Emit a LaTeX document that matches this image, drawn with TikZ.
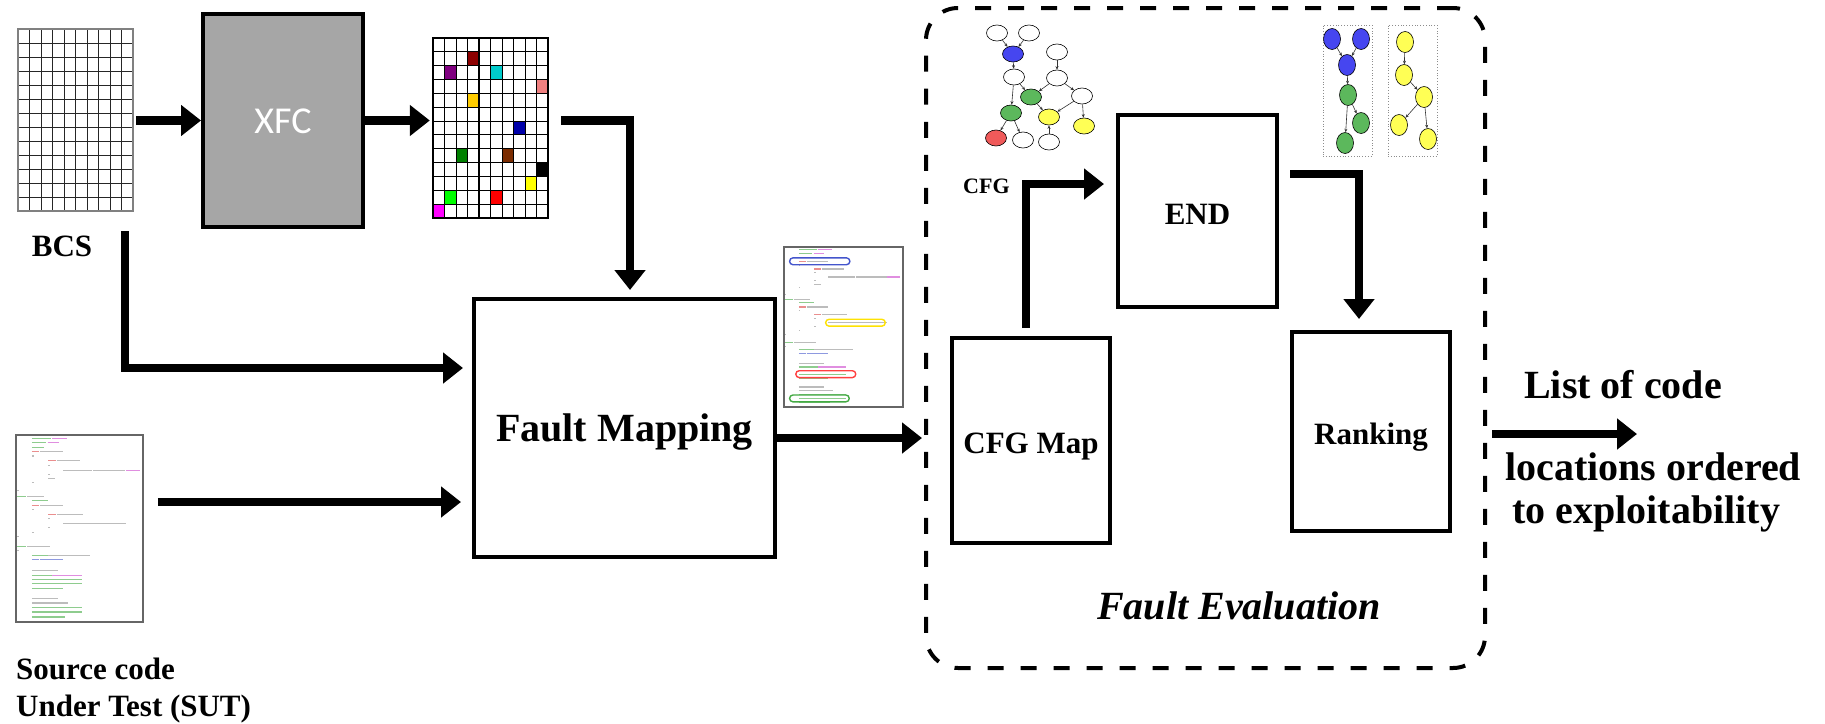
\documentclass[tikz,border=0pt]{standalone}
\usepackage{fontspec}
\setmainfont{Liberation Serif}
\newfontfamily\xfcfont{Carlito}
\usetikzlibrary{arrows.meta,shapes.geometric}

\definecolor{xfcgray}{HTML}{A6A6A6}
\definecolor{gblue}{HTML}{4646F0}
\definecolor{ggreen}{HTML}{5CB85C}
\definecolor{gyellow}{HTML}{FFFF55}
\definecolor{gred}{HTML}{F05A5A}
\definecolor{cgreen}{HTML}{44AA44}
\definecolor{cmag}{HTML}{CC44CC}
\definecolor{cblue}{HTML}{4455CC}
\definecolor{cred}{HTML}{DD4444}
\definecolor{cgray}{HTML}{909090}

% a page of source code, drawn in a 383 x 560 local frame
\newcommand\codelines{%
  \foreach \xa/\xb/\yy/\cc in {48/105/10/cgreen, 108/155/10/cmag,
      48/90/23/cgreen, 95/130/23/cmag, 48/83/37/cgreen,
      48/70/50/cred, 73/143/50/cgray, 48/53/63/cgray,
      98/120/77/cred, 123/193/77/cgray, 98/103/90/cgray,
      143/230/105/cgray, 233/330/105/cgray, 333/373/105/cmag,
      98/103/117/cgray, 98/118/130/cgray, 48/53/143/cgray, 3/8/165/cgray,
      3/30/183/cgreen, 33/83/183/cgray, 48/98/195/cgreen,
      48/70/210/cred, 73/143/210/cgray, 48/53/223/cgray,
      98/120/237/cred, 123/203/237/cgray, 98/103/250/cgray,
      143/333/265/cgray, 98/103/277/cgray, 48/53/293/cgray, 3/8/305/cgray,
      3/30/333/cgreen, 33/103/333/cgray, 3/8/347/cgray,
      48/95/360/cgreen, 98/223/360/cgray, 48/70/373/cblue, 73/143/373/cblue,
      48/128/407/cgray, 48/108/420/cgreen, 110/198/420/cmag,
      48/198/433/cgreen, 48/198/445/cgreen, 48/143/460/cgreen,
      48/128/490/cgray, 48/158/503/cgray, 48/198/517/cgreen,
      48/198/530/cgreen, 48/148/545/cgreen}
  {\draw[\cc, line width=1.1pt, opacity=0.6] (\xa,\yy) -- (\xb,\yy);}%
}

\begin{document}
\begin{tikzpicture}[x=1pt, y=-1pt,
  box/.style={draw, line width=4pt, inner sep=0pt, text height=26pt, text depth=0pt,
    font=\bfseries\fontsize{31}{31}\selectfont},
  arr/.style={line width=8.5pt, -{Triangle[length=20pt, width=30pt]}},
  lbl/.style={inner sep=0pt, font=\bfseries\fontsize{31}{31}\selectfont},
  biglbl/.style={inner sep=0pt, font=\bfseries\fontsize{40}{40}\selectfont},
  sheet/.style={draw=black!60, line width=1.5pt, fill=white, inner sep=0pt},
  gnode/.style={ellipse, draw, line width=0.6pt, inner sep=0pt, minimum width=21pt, minimum height=16pt},
  pnode/.style={ellipse, draw, line width=0.6pt, inner sep=0pt, minimum width=17pt, minimum height=21pt},
  garr/.style={draw=black!80, line width=0.6pt, -{Stealth[length=3.5pt, width=3pt]}},
  pathbox/.style={draw=black!45, dotted, line width=0.8pt, inner sep=0pt, minimum width=49pt, minimum height=131pt}
]
\useasboundingbox (0,0) rectangle (1825,723);

% ---------- bit configuration space ----------
\node[inner sep=0pt, minimum width=115pt, minimum height=182pt] (bcsgrid) at (75.5,120) {};
\foreach \i in {1,...,9} \draw[black!85, line width=0.9pt] (18+\i*11.5,29) -- (18+\i*11.5,211);
\foreach \j in {1,...,12} \draw[black!85, line width=0.9pt] (18,29+\j*14) -- (133,29+\j*14);
\draw[black!50, line width=2pt] (18,29) rectangle (133,211);
\node[lbl, anchor=base] (bcslabel) at (62,256) {BCS};

% ---------- fault grid with injected faults ----------
\node[inner sep=0pt, minimum width=115pt, minimum height=180pt] (cgrid) at (490.5,128) {};
\foreach \c/\r/\col in {3/1/{rgb,255:red,140;green,0;blue,0}, 1/2/{rgb,255:red,128;green,0;blue,128},
    5/2/{rgb,255:red,0;green,204;blue,204}, 9/3/{rgb,255:red,240;green,128;blue,128},
    3/4/{rgb,255:red,255;green,204;blue,0}, 7/6/{rgb,255:red,0;green,0;blue,170},
    2/8/{rgb,255:red,0;green,128;blue,0}, 6/8/{rgb,255:red,123;green,44;blue,0},
    9/9/{rgb,255:red,0;green,0;blue,0}, 8/10/{rgb,255:red,255;green,255;blue,0},
    1/11/{rgb,255:red,0;green,255;blue,0}, 5/11/{rgb,255:red,255;green,0;blue,0},
    0/12/{rgb,255:red,255;green,0;blue,255}}
  \fill[color=\col] (433+\c*11.5,38+\r*13.846) rectangle ++(11.5,13.846);
\foreach \i in {1,...,9} \draw[black, line width=0.9pt] (433+\i*11.5,38) -- (433+\i*11.5,218);
\foreach \j in {1,...,12} \draw[black, line width=0.9pt] (433,38+\j*13.846) -- (548,38+\j*13.846);
\draw[black, line width=1.3pt] (433+4*11.5,38) -- (433+4*11.5,218);
\draw[black, line width=1.4pt] (433,38) rectangle (548,218);

% ---------- source code under test ----------
\node[sheet, minimum width=127pt, minimum height=187pt] (srcsheet) at (79.5,528.5) {};
\begin{scope}[shift={(16,435)}, xscale=0.3316, yscale=0.334]
  \codelines
\end{scope}
\node[lbl, anchor=base west] (srclabel) at (16,679) {Source code};
\node[lbl, anchor=base west] (sutlabel) at (16,716) {Under Test (SUT)};

% ---------- mapped code with highlighted fault locations ----------
\node[sheet, minimum width=119pt, minimum height=160pt] (fmsheet) at (843.5,327) {};
\begin{scope}[shift={(784,247)}, xscale=0.3107, yscale=0.2857]
  \codelines
  \draw[cblue, line width=1.4pt, rounded corners=3.4pt] (18,38) rectangle (212,62);
  \draw[yellow!85!orange, line width=1.4pt, rounded corners=3.4pt] (134,253) rectangle (326,277);
  \draw[red!75, line width=1.4pt, rounded corners=3.4pt] (38,433) rectangle (231,457);
  \draw[cgreen, line width=1.4pt, rounded corners=3.4pt] (18,518) rectangle (210,542);
\end{scope}

% ---------- processing blocks ----------
\node[box, fill=xfcgray, minimum width=160pt, minimum height=213pt, text=white,
  font=\xfcfont\fontsize{38}{38}\selectfont, text height=25pt] (xfc) at (283,120.5) {XFC};
\node[box, minimum width=301pt, minimum height=258pt, font=\bfseries\fontsize{40}{40}\selectfont]
  (fm) at (624.5,428) {Fault Mapping};

% ---------- fault evaluation stage ----------
\node[draw, line width=4pt, dash pattern=on 16pt off 17pt, rounded corners=32pt, inner sep=0pt,
  minimum width=559pt, minimum height=660pt] (evalframe) at (1205.5,338) {};
\node[biglbl, font=\bfseries\itshape\fontsize{40}{40}\selectfont, anchor=base west]
  (evallabel) at (1097,619) {Fault Evaluation};

\node[box, minimum width=158pt, minimum height=205pt] (cfgmap) at (1031,440.5) {CFG Map};
\node[box, minimum width=159pt, minimum height=192pt] (endbox) at (1197.5,211) {END};
\node[box, minimum width=158pt, minimum height=199pt] (rank) at (1371,431.5) {Ranking};
\node[inner sep=0pt, anchor=base west, font=\bfseries\fontsize{22}{22}\selectfont]
  (cfglabel) at (963,193) {CFG};

% control flow graph
\node[gnode, fill=white]   (n1)  at (997,33) {};
\node[gnode, fill=white]   (n2)  at (1029,33) {};
\node[gnode, fill=gblue]   (n3)  at (1013,54) {};
\node[gnode, fill=white]   (n4)  at (1014,77) {};
\node[gnode, fill=white]   (n5)  at (1057,52) {};
\node[gnode, fill=white]   (n6)  at (1057,78) {};
\node[gnode, fill=ggreen]  (n7)  at (1031,97) {};
\node[gnode, fill=white]   (n8)  at (1082,96) {};
\node[gnode, fill=ggreen]  (n9)  at (1011,113) {};
\node[gnode, fill=gyellow] (n10) at (1049,117) {};
\node[gnode, fill=gyellow] (n11) at (1084,126) {};
\node[gnode, fill=gred]    (n12) at (996,138) {};
\node[gnode, fill=white]   (n13) at (1023,140) {};
\node[gnode, fill=white]   (n14) at (1049,142) {};
\foreach \a/\b in {n1/n3, n2/n3, n3/n4, n4/n7, n4/n9, n5/n6, n6/n7, n6/n8,
    n7/n10, n8/n10, n8/n11, n9/n12, n9/n13, n14/n10}
  \draw[garr] (\a) -- (\b);

% extracted paths
\node[pathbox] (pathA) at (1347.5,90.5) {};
\node[pathbox] (pathB) at (1412.5,90.5) {};
\node[pnode, fill=gblue]   (b1) at (1332,39) {};
\node[pnode, fill=gblue]   (b2) at (1361,39) {};
\node[pnode, fill=gblue]   (b3) at (1347,65) {};
\node[pnode, fill=ggreen]  (g1) at (1348,95) {};
\node[pnode, fill=ggreen]  (g2) at (1361,123) {};
\node[pnode, fill=ggreen]  (g3) at (1345,143) {};
\node[pnode, fill=gyellow] (y1) at (1405,42) {};
\node[pnode, fill=gyellow] (y2) at (1404,75) {};
\node[pnode, fill=gyellow] (y3) at (1424,97) {};
\node[pnode, fill=gyellow] (y4) at (1399,125) {};
\node[pnode, fill=gyellow] (y5) at (1428,139) {};
\foreach \a/\b in {b1/b3, b2/b3, b3/g1, g1/g2, g1/g3, y1/y2, y2/y3, y3/y4, y3/y5}
  \draw[garr] (\a) -- (\b);

% output
\node[biglbl, anchor=base west] (out1) at (1524,398) {List of code};
\node[biglbl, anchor=base west] (out2) at (1505,480) {locations ordered};
\node[biglbl, anchor=base west] (out3) at (1512,523) {to exploitability};

% ---------- connectors ----------
\draw[arr] ([xshift=3pt]bcsgrid.east |- xfc.west) -- (xfc.west);
\draw[arr] (xfc.east) -- ([xshift=-3pt]cgrid.west |- xfc.east);
\draw[arr] ([xshift=13pt]cgrid.east |- xfc.east) -| ([xshift=5.5pt,yshift=7pt]fm.north);
\draw[arr] ([xshift=-8pt,yshift=-20pt]bcsgrid.south east) |- ([xshift=-9pt,yshift=60pt]fm.west);
\draw[arr] ([xshift=14pt,yshift=26.5pt]srcsheet.east) -- ([xshift=-11pt,yshift=-74pt]fm.west);
\coordinate (fmout) at ([yshift=-10pt]fm.east);
\draw[arr] (fmout) -- ([xshift=-2pt]evalframe.west |- fmout);
\draw[arr] ([xshift=-5pt,yshift=8pt]cfgmap.north) |- ([xshift=-12pt,yshift=27pt]endbox.west);
\draw[arr] ([xshift=11pt,yshift=37pt]endbox.east) -| ([xshift=-12pt,yshift=11pt]rank.north);
\coordinate (listend) at ([xshift=185pt,yshift=-2.5pt]rank.east);
\draw[arr] ([xshift=40pt,yshift=-2.5pt]rank.east) -- (listend);
\end{tikzpicture}
\end{document}
